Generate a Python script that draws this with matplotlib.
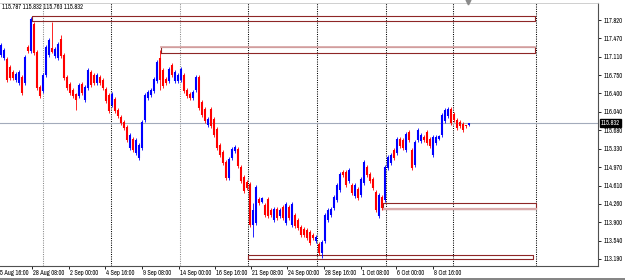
import matplotlib
matplotlib.use('Agg')
import numpy as np
import matplotlib.pyplot as plt
from matplotlib import font_manager
from matplotlib.lines import Line2D
from matplotlib.transforms import blended_transform_factory

# H4 candles, oldest first (bar index = position on the chart)
opens = [117.14, 117.09, 117.06, 116.91, 116.81, 116.66, 116.60, 116.71, 116.60, 117.30,
         117.22, 117.74, 117.20, 116.52, 116.45, 116.76, 117.14, 117.28, 117.12, 117.09,
         117.45, 117.14, 116.71, 116.58, 116.46, 116.39, 116.35, 116.58, 116.27, 116.50,
         116.81, 116.75, 116.60, 116.71, 116.66, 116.48, 116.37, 116.17, 116.29, 116.08,
         115.94, 115.84, 115.75, 115.34, 115.51, 115.24, 115.15, 115.34, 115.88, 116.31,
         116.37, 116.45, 116.64, 117.08, 116.85, 116.68, 116.64, 116.95, 116.64, 116.64,
         116.66, 116.75, 116.46, 116.39, 116.31, 116.47, 116.71, 116.23, 116.09, 115.79,
         116.09, 115.90, 115.71, 115.40, 115.26, 115.07, 114.76, 115.15, 115.28, 115.32,
         114.97, 114.78, 114.68, 114.64, 113.85, 113.89, 114.35, 114.29, 114.23, 114.35,
         114.14, 113.95, 114.16, 114.02, 114.20, 113.89, 114.20, 113.85, 114.04, 113.94,
         113.81, 113.77, 113.75, 113.71, 113.65, 113.54, 113.48, 113.30, 113.54, 113.95,
         114.04, 114.18, 114.33, 114.53, 114.87, 114.87, 114.70, 114.62, 114.41, 114.54,
         114.43, 114.66, 114.97, 114.83, 114.74, 114.49, 114.02, 114.39, 114.33, 114.95,
         115.05, 115.30, 115.24, 115.51, 115.49, 115.30, 115.65, 115.30, 115.01, 115.50,
         115.48, 115.55, 115.65, 115.51, 115.21, 115.44, 115.52, 115.59, 115.86, 115.96,
         116.09, 116.00, 115.88, 115.84, 115.80, 115.78, 115.787]
highs = [117.37, 117.28, 117.10, 116.95, 116.85, 116.81, 116.85, 116.75, 117.14, 117.34,
         117.88, 117.78, 117.24, 116.56, 116.79, 117.34, 117.47, 117.78, 117.30, 117.39,
         117.53, 117.18, 116.75, 116.62, 116.50, 116.41, 116.60, 116.62, 116.56, 116.89,
         116.85, 116.79, 116.79, 116.75, 116.70, 116.52, 116.41, 116.43, 116.33, 116.12,
         115.98, 115.88, 115.79, 115.63, 115.55, 115.53, 115.44, 115.88, 116.41, 116.46,
         116.50, 116.72, 117.05, 117.24, 116.89, 116.72, 116.91, 116.99, 116.85, 116.79,
         116.91, 116.79, 116.50, 116.43, 116.46, 116.75, 116.75, 116.27, 116.13, 115.94,
         116.13, 115.94, 115.75, 115.44, 115.30, 115.11, 115.17, 115.36, 115.40, 115.36,
         115.01, 114.82, 114.72, 114.68, 114.27, 114.62, 114.39, 114.39, 114.27, 114.39,
         114.18, 114.20, 114.20, 114.18, 114.24, 114.29, 114.24, 114.29, 114.08, 113.98,
         113.85, 113.81, 113.79, 113.75, 113.69, 113.65, 113.52, 113.56, 114.08, 114.18,
         114.20, 114.43, 114.66, 114.87, 114.91, 114.91, 114.95, 114.66, 114.66, 114.58,
         114.78, 115.11, 115.01, 114.87, 114.78, 114.53, 114.47, 114.43, 115.01, 115.20,
         115.24, 115.34, 115.55, 115.55, 115.53, 115.65, 115.69, 115.34, 115.50, 115.73,
         115.63, 115.59, 115.69, 115.55, 115.59, 115.59, 115.59, 116.02, 116.12, 116.13,
         116.13, 116.04, 115.92, 115.88, 115.84, 115.79, 115.832]
lows = [117.10, 117.05, 116.62, 116.66, 116.66, 116.62, 116.56, 116.37, 116.56, 117.18,
        117.18, 117.14, 116.46, 116.31, 116.41, 116.72, 117.10, 117.18, 117.08, 117.05,
        117.08, 116.66, 116.46, 116.37, 116.31, 116.08, 116.31, 116.37, 116.23, 116.46,
        116.52, 116.56, 116.56, 116.56, 116.46, 116.21, 116.02, 116.13, 116.02, 115.92,
        115.79, 115.69, 115.46, 115.30, 115.26, 115.20, 115.11, 115.30, 115.84, 116.27,
        116.33, 116.41, 116.60, 116.46, 116.50, 116.56, 116.60, 116.72, 116.60, 116.60,
        116.62, 116.41, 116.31, 116.27, 116.27, 116.43, 116.08, 115.94, 115.82, 115.75,
        115.73, 115.55, 115.30, 115.17, 115.01, 114.72, 114.72, 115.11, 115.24, 114.95,
        114.66, 114.47, 114.53, 113.81, 113.62, 113.85, 114.24, 114.27, 114.00, 113.98,
        114.00, 113.91, 113.94, 113.98, 113.94, 113.85, 113.94, 113.81, 113.79, 113.75,
        113.62, 113.62, 113.56, 113.46, 113.56, 113.50, 113.27, 113.21, 113.50, 113.91,
        114.00, 114.14, 114.29, 114.49, 114.78, 114.58, 114.66, 114.43, 114.37, 114.33,
        114.39, 114.62, 114.78, 114.66, 114.53, 114.10, 113.98, 114.14, 114.29, 114.91,
        115.01, 115.11, 115.20, 115.34, 115.30, 115.26, 115.46, 114.91, 114.97, 115.46,
        115.44, 115.46, 115.40, 115.34, 115.17, 115.40, 115.50, 115.55, 115.82, 115.92,
        115.79, 115.84, 115.69, 115.73, 115.65, 115.73, 115.763]
closes = [117.33, 117.24, 116.66, 116.70, 116.70, 116.77, 116.81, 116.41, 117.10, 117.22,
          117.84, 117.18, 116.50, 116.35, 116.75, 117.30, 117.43, 117.20, 117.26, 117.35,
          117.12, 116.70, 116.50, 116.41, 116.35, 116.27, 116.56, 116.41, 116.52, 116.85,
          116.56, 116.60, 116.75, 116.60, 116.50, 116.25, 116.06, 116.39, 116.06, 115.96,
          115.83, 115.73, 115.50, 115.59, 115.30, 115.49, 115.40, 115.84, 116.37, 116.42,
          116.46, 116.68, 117.01, 116.66, 116.54, 116.60, 116.87, 116.76, 116.81, 116.75,
          116.87, 116.45, 116.35, 116.31, 116.42, 116.71, 116.12, 115.98, 115.86, 115.90,
          115.77, 115.59, 115.34, 115.21, 115.05, 114.76, 115.13, 115.32, 115.36, 114.99,
          114.70, 114.51, 114.57, 113.85, 114.14, 114.58, 114.28, 114.37, 114.04, 114.02,
          114.04, 114.16, 113.98, 114.14, 113.98, 114.25, 113.98, 114.25, 113.83, 113.79,
          113.66, 113.66, 113.60, 113.50, 113.60, 113.61, 113.31, 113.52, 114.04, 114.14,
          114.16, 114.39, 114.62, 114.83, 114.82, 114.62, 114.91, 114.47, 114.62, 114.37,
          114.74, 115.07, 114.82, 114.70, 114.57, 114.14, 114.43, 114.18, 114.97, 115.16,
          115.20, 115.15, 115.51, 115.38, 115.34, 115.61, 115.50, 114.95, 115.46, 115.69,
          115.59, 115.50, 115.44, 115.38, 115.55, 115.55, 115.57, 115.98, 116.08, 116.09,
          115.83, 115.88, 115.73, 115.77, 115.69, 115.76, 115.832]

bid = 115.832
price_ticks = [117.820, 117.470, 117.110, 116.750, 116.400, 116.040, 115.680,
               115.330, 114.970, 114.610, 114.260, 113.900, 113.540, 113.190]
time_ticks = [-1.6, 10.3, 22.7, 34.7, 47.0, 59.3, 71.3, 83.3, 95.3, 107.7, 120.0, 131.7, 144.0]
time_labels = ['25 Aug 16:00', '28 Aug 08:00', '2 Sep 00:00', '4 Sep 16:00', '9 Sep 08:00',
               '14 Sep 00:00', '16 Sep 16:00', '21 Sep 08:00', '24 Sep 00:00', '28 Sep 16:00',
               '1 Oct 08:00', '6 Oct 00:00', '8 Oct 16:00']
separators = [14.0, 36.7, 59.7, 82.3, 105.3, 128.3, 150.7, 178.3]
separator_colors = ['#8a8a8a', 'black', '#8a8a8a', 'black', 'black', 'black', 'black', 'black']
# zones: (start bar, end bar, bottom price, top price, light edge)
zones = [(10.3, 178.0, 117.80, 117.90, None),
         (53.3, 178.0, 117.18, 117.30, 'top'),
         (127.3, 178.3, 114.16, 114.27, 'bottom'),
         (82.3, 177.3, 113.19, 113.27, None)]

# pick a narrow face if one is installed, else plain Liberation Sans
family, stretch = 'Liberation Sans', 'normal'
for f in font_manager.fontManager.ttflist:
    if ('Narrow' in f.name or 'Condensed' in f.name) and f.weight in (400, 'normal', 'regular'):
        family = f.name
        break
else:
    for f in font_manager.fontManager.ttflist:
        if f.name in ('Noto Sans', 'Open Sans') and f.stretch in ('condensed', 'semi-condensed', 300, 400):
            family, stretch = f.name, 'condensed'
            break
plt.rcParams['font.family'] = [family, 'DejaVu Sans']
plt.rcParams['font.stretch'] = stretch

fig = plt.figure(figsize=(6.25, 2.8), dpi=100)


def fit_size(s, target_px):
    t = fig.text(0, 0, s, fontsize=10)
    w = t.get_window_extent(renderer=fig.canvas.get_renderer()).width
    t.remove()
    return 10 * target_px / w


fs = min(fit_size('117.820', 19), fit_size('28 Aug 08:00', 33), 5.2)

ax = fig.add_axes([0, 14 / 280, 598 / 625, 263 / 280])
ax.set_xlim(-1 / 3, 199)
ax.set_ylim(113.053, 118.15)

# period separators
for pos, col in zip(separators, separator_colors):
    ax.axvline(pos, color=col, lw=0.75, ls=(0, (1, 1.2)), zorder=1)

# bid line
ax.axhline(bid, color='#a3abbb', lw=0.8, zorder=1)

# zones
for x0, x1, y0, y1, light in zones:
    ax.plot([x0, x1, x1, x0, x0], [y0, y0, y1, y1, y0], color='#8e2626', lw=0.8, zorder=2)
    if light == 'top':
        ax.plot([x0, x1], [y1, y1], color='#d9aaaa', lw=1.3, zorder=2)
    elif light == 'bottom':
        ax.plot([x0, x1], [y0, y0], color='#d9aaaa', lw=1.6, zorder=2)

# candles
o = np.array(opens)
c = np.array(closes)
idx = np.arange(len(o))
cols = np.where(c >= o, '#0000ff', '#ff0000')
ax.vlines(idx, lows, highs, colors=cols, lw=0.6, zorder=3)
ax.vlines(idx, np.minimum(o, c), np.maximum(o, c), colors=cols, lw=1.5, zorder=3)

# axes look
ax.spines['left'].set_visible(False)
ax.spines['top'].set_color('#c8c8c8')
ax.spines['top'].set_linewidth(0.6)
for side in ['right', 'bottom']:
    ax.spines[side].set_color('#505050')
    ax.spines[side].set_linewidth(0.8)

ax.yaxis.tick_right()
ax.set_yticks(price_ticks)
ax.set_yticklabels(['%.3f' % p for p in price_ticks])
ax.tick_params(axis='y', length=2, width=0.6, pad=2, labelsize=fs, colors='black')

ax.set_xticks([t for t in time_ticks if t >= 0])
ax.set_xticklabels([])
ax.tick_params(axis='x', length=2.5, width=0.6, colors='black')
tr = blended_transform_factory(ax.transData, ax.transAxes)
for t, lab in zip(time_ticks, time_labels):
    ax.text(t + 0.4, -0.014, lab, transform=tr, ha='left', va='top', fontsize=fs, clip_on=False)

# current price label
ax.annotate('%.3f' % bid, xy=(1.0, bid), xycoords=('axes fraction', 'data'),
            xytext=(2, 0), textcoords='offset points', ha='left', va='center',
            fontsize=fs, color='white',
            bbox=dict(boxstyle='square,pad=0.15', fc='black', ec='black'))

# OHLC header of the last bar
fig.text(2 / 625, 1 - 7 / 280, '%.3f %.3f %.3f %.3f' % (opens[-1], highs[-1], lows[-1], closes[-1]),
         ha='left', va='center', fontsize=fs)

# chart shift marker and window border
fig.add_artist(Line2D([468 / 625], [1 - 2 / 280], marker='v', markersize=3.5,
                      color='#8a8a8a', lw=0))
fig.add_artist(Line2D([0, 1], [1.5 / 280, 1.5 / 280], color='#6e6e6e', lw=1.2))

fig.savefig('out.png', dpi=100)
